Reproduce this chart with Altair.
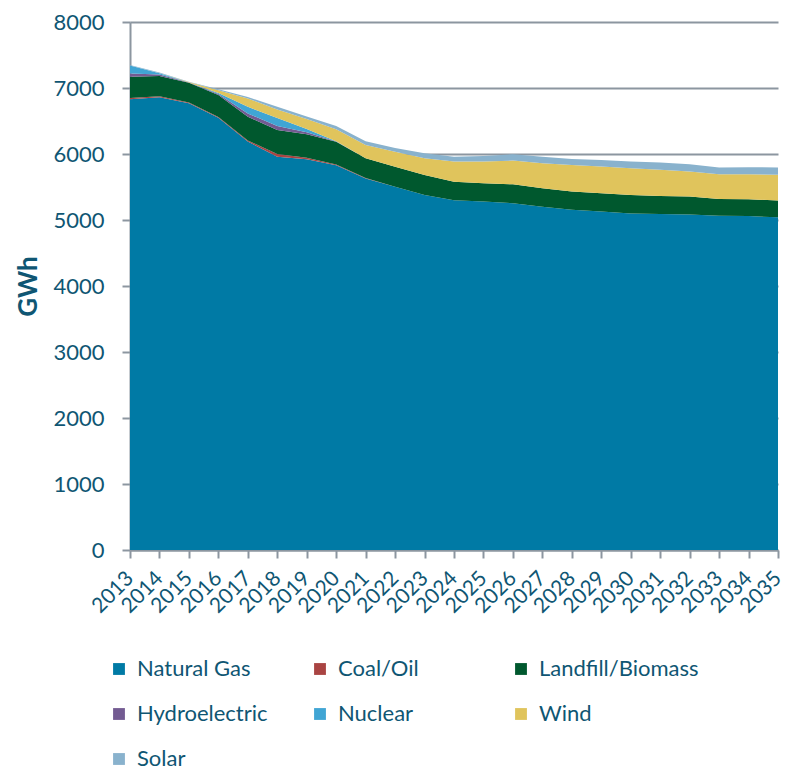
import altair as alt
import pandas as pd

years = list(range(2013, 2036))

natural_gas = [6830, 6860, 6770, 6550, 6190, 5960, 5920, 5830, 5630, 5505, 5380, 5300,
               5280, 5255, 5200, 5155, 5130, 5100, 5090, 5085, 5065, 5060, 5040]
coal_oil = [20, 15, 10, 10, 15, 40, 25, 10, 5, 0, 0, 0, 0, 0, 0, 0, 0, 0, 0, 0, 0, 0, 0]
landfill_biomass = [320, 305, 300, 335, 360, 365, 355, 345, 300, 300, 300, 280,
                    275, 285, 280, 275, 275, 280, 275, 270, 255, 255, 255]
hydroelectric = [50, 25, 5, 15, 50, 60, 30, 5, 0, 0, 0, 0, 0, 0, 0, 0, 0, 0, 0, 0, 0, 0, 0]
nuclear = [120, 20, 0, 15, 100, 120, 50, 5, 0, 0, 0, 0, 0, 0, 0, 0, 0, 0, 0, 0, 0, 0, 0]
wind = [0, 0, 5, 40, 125, 130, 150, 180, 200, 230, 255, 305,
        330, 360, 380, 405, 405, 405, 395, 380, 375, 380, 390]
solar = [10, 10, 5, 15, 25, 40, 40, 50, 60, 55, 75, 75,
         85, 95, 100, 90, 100, 100, 110, 110, 100, 105, 110]

series_names = ["Natural Gas", "Coal/Oil", "Landfill/Biomass", "Hydroelectric",
                "Nuclear", "Wind", "Solar"]
series_values = [natural_gas, coal_oil, landfill_biomass, hydroelectric,
                 nuclear, wind, solar]
series_colors = ["#007aa5", "#a94442", "#00582e", "#735b92", "#40a5d4", "#e0c45c", "#89b2cd"]

rows = []
for idx, (name, vals) in enumerate(zip(series_names, series_values)):
    for y, v in zip(years, vals):
        rows.append({"Year": y, "Source": name, "GWh": v, "order": idx})
df = pd.DataFrame(rows)

text_color = "#0f5673"
axis_gray = "#8c96a0"
font = "Lato"

chart = alt.Chart(df).mark_area(interpolate="linear").encode(
    x=alt.X("Year:Q",
            scale=alt.Scale(domain=[2013, 2035], nice=False, zero=False),
            axis=alt.Axis(values=years, format="d", title=None, labelAngle=-45,
                          labelAlign="right", labelBaseline="middle",
                          labelFontSize=21, labelPadding=17, grid=False,
                          tickSize=8, labelOverlap=False)),
    y=alt.Y("GWh:Q", stack="zero",
            scale=alt.Scale(domain=[0, 8000], nice=False),
            axis=alt.Axis(values=list(range(0, 8001, 1000)), format="d", title="GWh",
                          titleFontSize=26, titleFontWeight="bold", titlePadding=11,
                          labelFontSize=22, labelPadding=18, tickSize=8, grid=True)),
    color=alt.Color("Source:N",
                    scale=alt.Scale(domain=series_names, range=series_colors),
                    legend=alt.Legend(title=None, orient="none", legendX=-22, legendY=636,
                                      direction="horizontal",
                                      columns=3, gridAlign="all", columnPadding=12,
                                      rowPadding=23, symbolType="square", symbolSize=140,
                                      symbolStrokeWidth=0, labelFontSize=22, labelOffset=7,
                                      labelLimit=300)),
    order=alt.Order("order:Q", sort="ascending"),
).properties(
    width=648, height=528,
    autosize=alt.AutoSizeParams(type="none"),
    padding={"left": 130, "top": 22, "right": 8, "bottom": 220},
).configure_view(stroke=None).configure_axis(
    domainColor=axis_gray, tickColor=axis_gray, gridColor=axis_gray, gridWidth=2,
    domainWidth=2, tickWidth=2,
    labelColor=text_color, titleColor=text_color, labelFont=font, titleFont=font,
).configure_legend(labelColor=text_color, labelFont=font)

chart.save("out.html", embed_options={"renderer": "svg", "actions": False})
